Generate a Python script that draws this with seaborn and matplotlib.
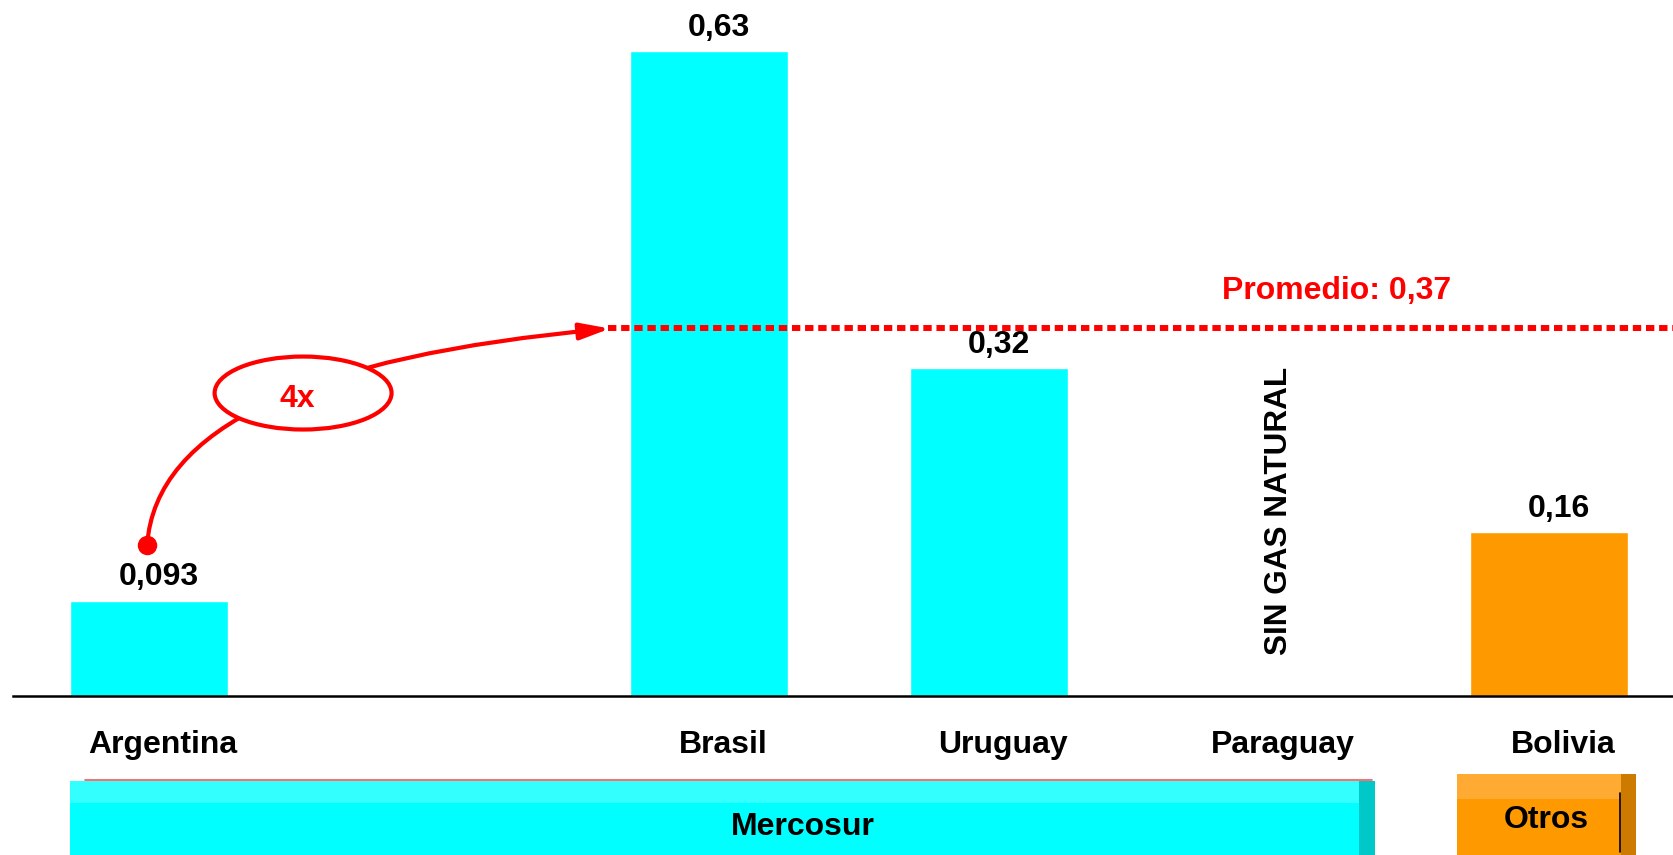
import pandas as pd
import matplotlib.pyplot as plt
import seaborn as sns
from matplotlib.patches import Ellipse, Rectangle, FancyArrowPatch
from matplotlib.path import Path

# Datos
paises = ['Argentina', 'Brasil', 'Uruguay', 'Bolivia']
valores = [0.093, 0.63, 0.32, 0.16]
grupos = ['Mercosur', 'Mercosur', 'Mercosur', 'Otros']
orden = ['Argentina', ' ', 'Brasil', 'Uruguay', 'Paraguay', 'Bolivia']
promedio = 0.36
promedio_txt = 'Promedio: 0,37'
sin_gas = 'Paraguay'

colores = {'Mercosur': '#00FFFF', 'Otros': '#FF9900'}

df = pd.DataFrame({'pais': paises, 'valor': valores, 'grupo': grupos})

sns.set_style('white')
plt.rcParams['font.family'] = ['Liberation Sans', 'DejaVu Sans']
plt.rcParams['text.color'] = 'black'
FS = 23

fig = plt.figure(figsize=(16.74, 8.55), dpi=100)
ax = fig.add_axes([13 / 1674, 159 / 855, 1 - 13 / 1674, 696 / 855])

sns.barplot(data=df, x='pais', y='valor', hue='grupo', order=orden,
            palette=colores, width=0.565, saturation=1, legend=False, ax=ax)

ax.set_xlim(-0.486, 5.446)
ax.set_ylim(0, 0.68)
ax.set_xlabel('')
ax.set_ylabel('')
ax.set_yticks([])
ax.set_xticks([])
for s in ['left', 'top', 'right']:
    ax.spines[s].set_visible(False)
ax.spines['bottom'].set_color('black')
ax.spines['bottom'].set_linewidth(1.8)

# Nombres de países
for i, nombre in enumerate(orden):
    ax.text(i + 0.05, -0.0557, nombre, ha='center', va='baseline',
            fontsize=FS, fontweight='bold', color='black', clip_on=False)

# Etiquetas de valores
for p, v in zip(paises, valores):
    i = orden.index(p)
    ax.text(i + 0.036, v + 0.015, str(v).replace('.', ','), ha='center',
            va='baseline', fontsize=FS, fontweight='bold', color='black')

# Línea de promedio
ax.hlines(promedio, 1.64, 5.446, colors='red', linewidth=4.3,
          linestyles=(0, (1.4, 0.8)))
ax.text(4.24, promedio + 0.0277, promedio_txt, color='red', ha='center',
        va='baseline', fontsize=FS, fontweight='bold')

# Sin gas natural
ax.text(orden.index(sin_gas) + 0.036, 0.181, 'SIN GAS NATURAL', rotation=90,
        ha='center', va='center', fontsize=FS - 0.3, fontweight='bold',
        color='black')

# Flecha 4x
camino = Path([(-0.007, 0.148), (0.039, 0.319), (1.646, 0.359)],
              [Path.MOVETO, Path.CURVE3, Path.CURVE3])
flecha = FancyArrowPatch(path=camino,
                         arrowstyle='-|>,head_length=0.9,head_width=0.25',
                         mutation_scale=20, color='red', lw=3, zorder=4)
ax.add_patch(flecha)
ax.plot(-0.007, 0.148, 'o', color='red', ms=13, zorder=5)
ax.add_patch(Ellipse((0.55, 0.296), 0.632, 0.0713, facecolor='white',
                     edgecolor='red', lw=3, zorder=5))
ax.text(0.53, 0.282, '4x', color='red', ha='center', va='baseline',
        fontsize=FS, fontweight='bold', zorder=6)


# Bandas de grupos
def caja(x0, x1, y0, y1, color, z=3):
    ax.add_patch(Rectangle((x0, y1), x1 - x0, y0 - y1, facecolor=color,
                           edgecolor='none', clip_on=False, zorder=z))


caja(-0.282, 4.379, -0.083, -0.17, '#00FFFF')
caja(-0.282, 4.379, -0.083, -0.1045, '#33FFFF')
caja(4.321, 4.379, -0.083, -0.17, '#00C8C8')
ax.plot([-0.229, 4.368], [-0.082, -0.082], color='#FF5050', lw=1.2,
        clip_on=False, zorder=4)
ax.text(2.336, -0.128, 'Mercosur', ha='center', va='center', fontsize=FS,
        fontweight='bold', color='black', clip_on=False, zorder=5)

caja(4.671, 5.311, -0.076, -0.17, '#FF9900')
caja(4.671, 5.311, -0.076, -0.1006, '#FFAA33')
caja(5.257, 5.311, -0.076, -0.17, '#CC7A00')
ax.plot([5.254, 5.254], [-0.095, -0.152], color='black', lw=1.2,
        clip_on=False, zorder=4)
ax.text(4.989, -0.121, 'Otros', ha='center', va='center', fontsize=FS,
        fontweight='bold', color='black', clip_on=False, zorder=5)

fig.savefig('out.png', dpi=100)
